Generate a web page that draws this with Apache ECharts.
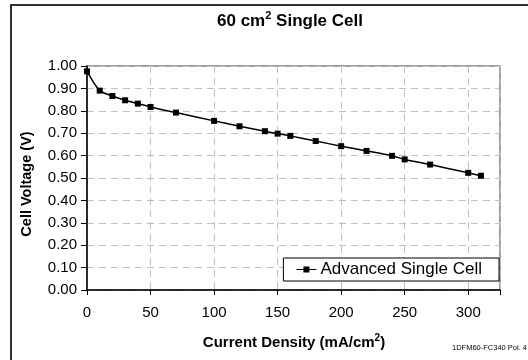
<!DOCTYPE html>
<html><head><meta charset="utf-8">
<script src="https://cdn.jsdelivr.net/npm/echarts@6/dist/echarts.min.js"></script>
<style>html,body{margin:0;padding:0;background:#fff}#c{width:528px;height:360px}</style>
</head><body><div id="c"></div>
<script>
const currentDensity = [0, 10, 20, 30, 40, 50, 70, 100, 120, 140, 150, 160, 180, 200, 220, 240, 250, 270, 300, 310];
const cellVoltage = [0.976, 0.890, 0.866, 0.847, 0.832, 0.817, 0.792, 0.755, 0.731, 0.709, 0.698, 0.688, 0.665, 0.642, 0.621, 0.599, 0.583, 0.560, 0.523, 0.510];
const seriesName = 'Advanced Single Cell';

const F = 'Arial, "Liberation Sans", sans-serif';
const ctx = document.createElement('canvas').getContext('2d');
function tw(t, size, bold) { ctx.font = (bold ? 'bold ' : '') + size + 'px ' + F; return ctx.measureText(t).width; }
function supText(parts, cx, cy, size, supSize) {
  const widths = parts.map(p => tw(p[0], p[1] ? supSize : size, true));
  const total = widths.reduce((a, b) => a + b, 0);
  let x = cx - total / 2;
  return parts.map((p, i) => {
    const el = {type: 'text', x: x, y: p[1] ? cy - size * 0.3 : cy, style: {
      text: p[0], align: 'left', verticalAlign: 'middle',
      fontSize: p[1] ? supSize : size, fontWeight: 'bold', fontFamily: F, fill: '#000'}};
    x += widths[i];
    return el;
  });
}

const chart = echarts.init(document.getElementById('c'));
chart.setOption({
  animation: false,
  grid: {left: 87, top: 66, right: 28, bottom: 70, show: true, borderColor: '#808080', borderWidth: 1.5, backgroundColor: '#fff'},
  xAxis: {
    type: 'value', min: 0, max: 325, interval: 50,
    axisLine: {lineStyle: {color: '#000', width: 1.5}},
    axisTick: {show: true, length: 5, lineStyle: {color: '#000'}},
    axisLabel: {color: '#000', fontSize: 15, fontFamily: F, margin: 15,
      formatter: v => (v % 50 === 0 ? String(v) : '')},
    splitLine: {show: true, lineStyle: {color: '#c0c0c0', type: [7, 5]}}
  },
  yAxis: {
    type: 'value', min: 0, max: 1, interval: 0.1,
    axisLine: {show: true, lineStyle: {color: '#000', width: 1.5}},
    axisTick: {show: true, length: 6, lineStyle: {color: '#000'}},
    axisLabel: {color: '#000', fontSize: 15, fontFamily: F, margin: 10, formatter: v => v.toFixed(2)},
    splitLine: {show: true, lineStyle: {color: '#c0c0c0', type: [7, 5]}}
  },
  legend: {
    show: true, right: 29, bottom: 79, orient: 'horizontal',
    backgroundColor: '#fff', borderColor: '#000', borderWidth: 1,
    padding: [3, 17, 3, 13], itemWidth: 20, itemHeight: 8, itemGap: 4,
    textStyle: {color: '#000', fontSize: 17, fontFamily: F, padding: [0, 0, 0, -1]},
    data: [{name: seriesName, icon: 'path://M0,3.4 L20,3.4 L20,4.6 L0,4.6 Z M7,1 L13,1 L13,7 L7,7 Z'}]
  },
  series: [{
    name: seriesName, type: 'line', smooth: 0.25,
    data: currentDensity.map((x, i) => [x, cellVoltage[i]]),
    symbol: 'rect', symbolSize: 6, showSymbol: true,
    itemStyle: {color: '#000'},
    lineStyle: {color: '#000', width: 1.5}
  }],
  graphic: [
    {type: 'rect', shape: {x: 11, y: 5, width: 600, height: 400}, style: {fill: 'none', stroke: '#333', lineWidth: 2}, silent: true, z: -1},
    ...supText([['60 cm', false], ['2', true], [' Single Cell', false]], 290, 21, 17, 11),
    ...supText([['Current Density (mA/cm', false], ['2', true], [')', false]], 294, 343, 15, 10),
    {type: 'text', x: 27, y: 184, rotation: Math.PI / 2, style: {
      text: 'Cell Voltage (V)', align: 'center', verticalAlign: 'middle',
      fontSize: 14.5, fontWeight: 'bold', fontFamily: F, fill: '#000'}},
    {type: 'text', x: 527, y: 348, style: {
      text: '1DFM60-FC340 Pol. 4', align: 'right', verticalAlign: 'middle',
      fontSize: 7.5, fontFamily: F, fill: '#000'}}
  ]
});
</script></body></html>
